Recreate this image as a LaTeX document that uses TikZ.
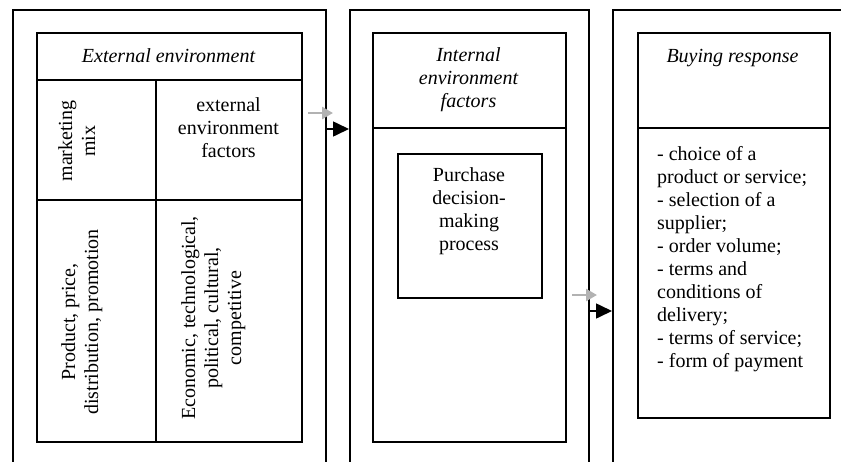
\documentclass[tikz,border=0pt]{standalone}
\usepackage{fontspec}
\setmainfont{Liberation Serif}
\usetikzlibrary{arrows.meta}
\begin{document}
\begin{tikzpicture}[x=1pt,y=-1pt,
  frame/.style={draw,line width=1.6pt,inner sep=0pt,anchor=north west},
  rule/.style={line width=1.6pt},
  txt/.style={inner sep=0pt,align=center,font=\fontsize{20}{23}\selectfont},
  ittxt/.style={txt,font=\fontsize{20}{23}\selectfont\itshape},
  flow/.style={line width=1.6pt,-{Triangle[length=16pt,width=15pt]}},
  ghost/.style={line width=2.6pt,draw=black!30,-{Triangle[length=11pt,width=12pt,fill=black!30]}}]
\useasboundingbox (0,0) rectangle (841,461);

% outer panels (they run past the lower page edge)
\node[frame,minimum width=313pt,minimum height=480pt] (outerA) at (12,9) {};
\node[frame,minimum width=239pt,minimum height=480pt] (outerB) at (349,9) {};
\node[frame,minimum width=300pt,minimum height=480pt] (outerC) at (612,9) {};

% inner panels
\node[frame,minimum width=265pt,minimum height=409pt] (innerA) at (36,32) {};
\node[frame,minimum width=193pt,minimum height=409pt] (innerB) at (372,32) {};
\node[frame,minimum width=192pt,minimum height=385pt] (innerC) at (637,32) {};
\node[frame,minimum width=144pt,minimum height=144pt] (decision) at (397,153) {};

% table rules
\draw[rule] (36,80) -- (301,80);
\draw[rule] (36,200) -- (301,200);
\draw[rule] (156,80) -- (156,441);
\draw[rule] (372,128) -- (565,128);
\draw[rule] (637,128) -- (829,128);

% first panel texts
\node[ittxt] (extTitle) at (168.5,56) {External environment};
\node[txt,anchor=north] (extFactors) at (228.5,97) {external\\environment\\factors};
\node[txt,rotate=90,anchor=north] (mix) at (58,141) {marketing\\mix};
\node[txt,rotate=90,anchor=north] (fourP) at (61,322) {Product, price,\\distribution, promotion};
\node[txt,rotate=90,anchor=north] (kinds) at (181,318) {Economic, technological,\\political, cultural,\\competitive};

% second panel texts
\node[ittxt,anchor=north] (intTitle) at (468.5,47) {Internal\\environment\\factors};
\node[txt,anchor=north] (decText) at (469,167) {Purchase\\decision-\\making\\process};

% third panel texts
\node[ittxt,anchor=north] (buyTitle) at (732.5,49) {Buying response};
\node[txt,anchor=north west,align=left] (buyList) at (657,146) {- choice of a\\product or service;\\- selection of a\\supplier;\\- order volume;\\- terms and\\conditions of\\delivery;\\- terms of service;\\- form of payment};

% connectors between panels
\coordinate (levelA) at (0,129);
\coordinate (levelB) at (0,311);
\draw[flow] (outerA.east |- levelA) -- (outerB.west |- levelA);
\draw[flow] (outerB.east |- levelB) -- (outerC.west |- levelB);
\coordinate (ghostA) at (308,113);
\coordinate (ghostAend) at (333,113);
\coordinate (ghostB) at (572,295);
\coordinate (ghostBend) at (597,295);
\draw[ghost] (ghostA) -- (ghostAend);
\draw[ghost] (ghostB) -- (ghostBend);
\end{tikzpicture}
\end{document}
